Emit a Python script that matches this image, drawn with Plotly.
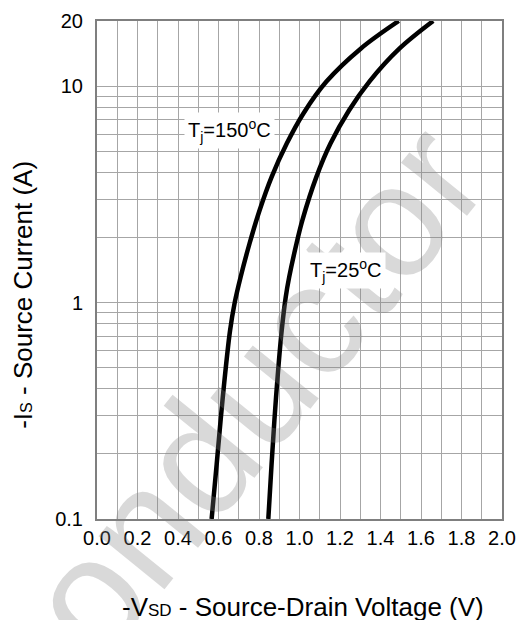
import plotly.graph_objects as go

# ---- data ----
vsd_150 = [0.566, 0.591, 0.621, 0.657, 0.680, 0.709, 0.753, 0.803, 0.862, 0.937, 1.020, 1.133, 1.302, 1.490]
is_150 = [0.1, 0.179, 0.364, 0.742, 1.0, 1.31, 1.87, 2.67, 3.80, 5.43, 7.5, 10.5, 14.9, 20]

vsd_25 = [0.846, 0.862, 0.884, 0.912, 0.932, 0.949, 0.985, 1.014, 1.083, 1.153, 1.245, 1.345, 1.493, 1.660]
is_25 = [0.1, 0.179, 0.364, 0.742, 1.06, 1.31, 1.87, 2.40, 3.80, 5.43, 7.74, 10.5, 14.9, 20]

y_grid_vals = [0.1, 0.2, 0.3, 0.4, 0.5, 0.6, 0.7, 0.8, 0.9,
               1, 2, 3, 4, 5, 6, 7, 8, 9, 10, 20]
y_labeled = {0.1: "0.1", 1: "1", 10: "10", 20: "20"}
y_tick_text = [y_labeled.get(v, "") for v in y_grid_vals]

x_tick_vals = [0.0, 0.2, 0.4, 0.6, 0.8, 1.0, 1.2, 1.4, 1.6, 1.8, 2.0]
x_tick_text = ["0.0", "0.2", "0.4", "0.6", "0.8", "1.0", "1.2", "1.4", "1.6", "1.8", "2.0"]

label_150 = "T<sub>j</sub>=150<sup>o</sup>C"
label_25 = "T<sub>j</sub>=25<sup>o</sup>C"

FONT = "Liberation Sans, Arial, sans-serif"
GRID = "#a6a6a6"

fig = go.Figure()
fig.add_trace(go.Scatter(x=vsd_150, y=is_150, mode="lines",
                         line=dict(color="black", width=4.5, shape="spline", smoothing=1.0),
                         showlegend=False, hoverinfo="skip"))
fig.add_trace(go.Scatter(x=vsd_25, y=is_25, mode="lines",
                         line=dict(color="black", width=4.5, shape="spline", smoothing=1.0),
                         showlegend=False, hoverinfo="skip"))

fig.update_layout(
    width=518, height=620,
    margin=dict(l=97, r=16, t=21, b=101),
    paper_bgcolor="white", plot_bgcolor="white",
    font=dict(family=FONT, color="black", size=20),
    xaxis=dict(range=[0, 2], tickvals=x_tick_vals, ticktext=x_tick_text,
               showgrid=True, gridcolor=GRID, gridwidth=1,
               minor=dict(dtick=0.1, showgrid=True, gridcolor=GRID, gridwidth=1),
               showline=True, linecolor="#7f7f7f", linewidth=2, mirror=True,
               ticks="", tickfont=dict(size=20, family=FONT), automargin=False,
               zeroline=False, fixedrange=True),
    yaxis=dict(type="log", range=[-1, 1.30103], tickvals=y_grid_vals, ticktext=y_tick_text,
               showgrid=True, gridcolor=GRID, gridwidth=1,
               showline=True, linecolor="#7f7f7f", linewidth=2, mirror=True,
               ticks="", tickfont=dict(size=20, family=FONT), ticklabelstandoff=8,
               automargin=False, zeroline=False, fixedrange=True),
)

annotations = [
    # watermark
    dict(text="conductor", xref="paper", yref="paper", x=0.328, y=0.197,
         xanchor="center", yanchor="middle",
         showarrow=False, textangle=-51,
         font=dict(size=160, family=FONT, color="rgba(128,128,128,0.3)")),
    dict(text=label_150, xref="x", yref="y", x=0.654, y=0.796, showarrow=False,
         xanchor="center", yanchor="middle",
         bgcolor="white", borderpad=3, font=dict(size=20, family=FONT)),
    dict(text=label_25, xref="x", yref="y", x=1.232, y=0.148, showarrow=False,
         xanchor="center", yanchor="middle",
         bgcolor="white", borderpad=3, font=dict(size=20, family=FONT)),
    # axis titles
    dict(text='-I<span style="font-size:16px">S</span> - Source Current (A)',
         xref="paper", yref="paper", x=-0.183, y=0.45, showarrow=False, textangle=-90,
         xanchor="center", yanchor="middle",
         font=dict(size=26, family=FONT)),
    dict(text='-V<span style="font-size:17px">SD</span> - Source-Drain Voltage (V)',
         xref="paper", yref="paper", x=0.508, y=-0.177, showarrow=False,
         xanchor="center", yanchor="middle",
         font=dict(size=26, family=FONT)),
]
fig.update_layout(annotations=annotations)

fig.write_html("out.html")
